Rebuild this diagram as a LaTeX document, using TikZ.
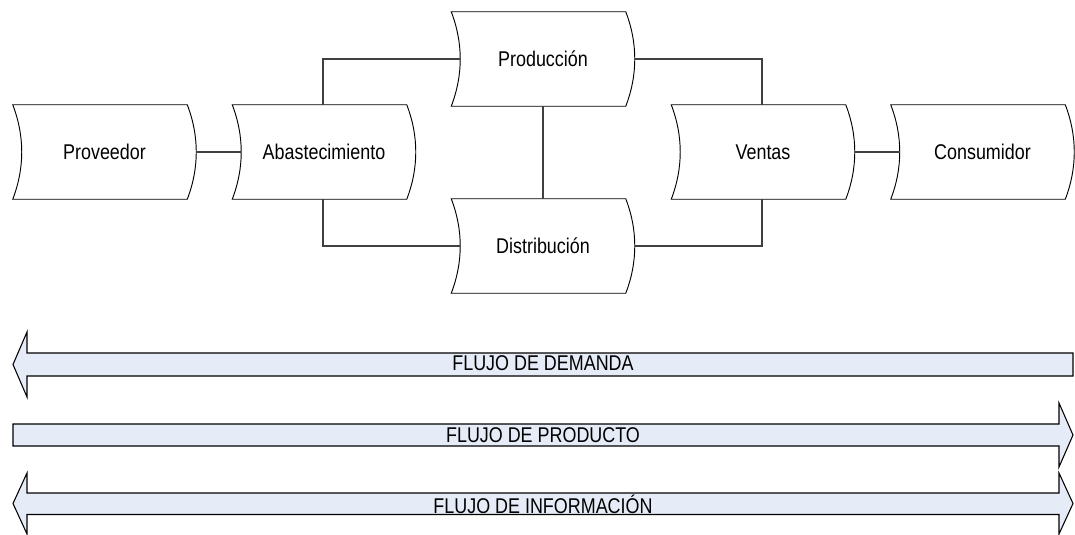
\documentclass[tikz,border=0pt]{standalone}
\usepackage{fontspec}
\setmainfont{Liberation Sans}[FakeStretch=0.84]
\definecolor{flowfill}{RGB}{230,236,247}
\begin{document}
\begin{tikzpicture}[x=0.75pt,y=-0.75pt,
  store/.style={minimum width=130.5pt, minimum height=70.5pt, inner sep=0pt,
    font=\fontsize{16pt}{19pt}\selectfont, execute at begin node={\hspace*{6.75pt}}},
  shapeline/.style={draw=black, line width=0.7pt},
  conn/.style={draw=black!75, line width=0.9pt},
  flow/.style={draw=black, line width=0.8pt, fill=flowfill, line join=miter},
  flowtext/.style={font=\fontsize{16pt}{19pt}\selectfont, inner sep=0pt}]
\useasboundingbox (0,0) rectangle (1075,535);
% nodes (top corners of the stored-data shapes)
\node[store] (prov) at (100,152) {Proveedor};
\node[store] (abas) at (319.5,152) {Abastecimiento};
\node[store] (prod) at (538.5,59) {Producción};
\node[store] (dist) at (538.5,246) {Distribución};
\node[store] (vent) at (758.5,152) {Ventas};
\node[store] (cons) at (978,152) {Consumidor};
\foreach \n in {prov,abas,prod,dist,vent,cons}{
  \draw[shapeline] (\n.north west) -- (\n.north east)
    .. controls ([xshift=9pt,yshift=-23.5pt]\n.north east) and ([xshift=9pt,yshift=23.5pt]\n.south east) .. (\n.south east)
    -- (\n.south west)
    .. controls ([xshift=9pt,yshift=23.5pt]\n.south west) and ([xshift=9pt,yshift=-23.5pt]\n.north west) .. cycle;
}
% connectors
\draw[conn] ([xshift=6.75pt]prov.east) -- ([xshift=6.75pt]abas.west);
\draw[conn] ([xshift=2.6pt]abas.north) |- ([xshift=6.75pt]prod.west);
\draw[conn] ([xshift=2.6pt]abas.south) |- ([xshift=6.75pt]dist.west);
\draw[conn] ([xshift=6.75pt]prod.east) -| ([xshift=2.6pt]vent.north);
\draw[conn] ([xshift=6.75pt]dist.east) -| ([xshift=2.6pt]vent.south);
\draw[conn] ([xshift=3.4pt]prod.south) -- ([xshift=3.4pt]dist.north);
\draw[conn] ([xshift=6.75pt]vent.east) -- ([xshift=6.75pt]cons.west);
% flow arrows
\draw[flow] (1073,353) -- (27,353) -- (27,332) -- (13,364.5) -- (27,397) -- (27,376) -- (1073,376) -- cycle;
\draw[flow] (13,424) -- (1059,424) -- (1059,403) -- (1073,435) -- (1059,467) -- (1059,446) -- (13,446) -- cycle;
\draw[flow] (27,493) -- (1059,493) -- (1059,473) -- (1073,503.5) -- (1059,534) -- (1059,514.5)
  -- (27,514.5) -- (27,534) -- (13,503.5) -- (27,473) -- cycle;
\node[flowtext] (fdem) at (543,363) {FLUJO DE DEMANDA};
\node[flowtext] (fprod) at (543,435) {FLUJO DE PRODUCTO};
\node[flowtext] (finf) at (543,504) {FLUJO DE INFORMACIÓN};
\end{tikzpicture}
\end{document}
